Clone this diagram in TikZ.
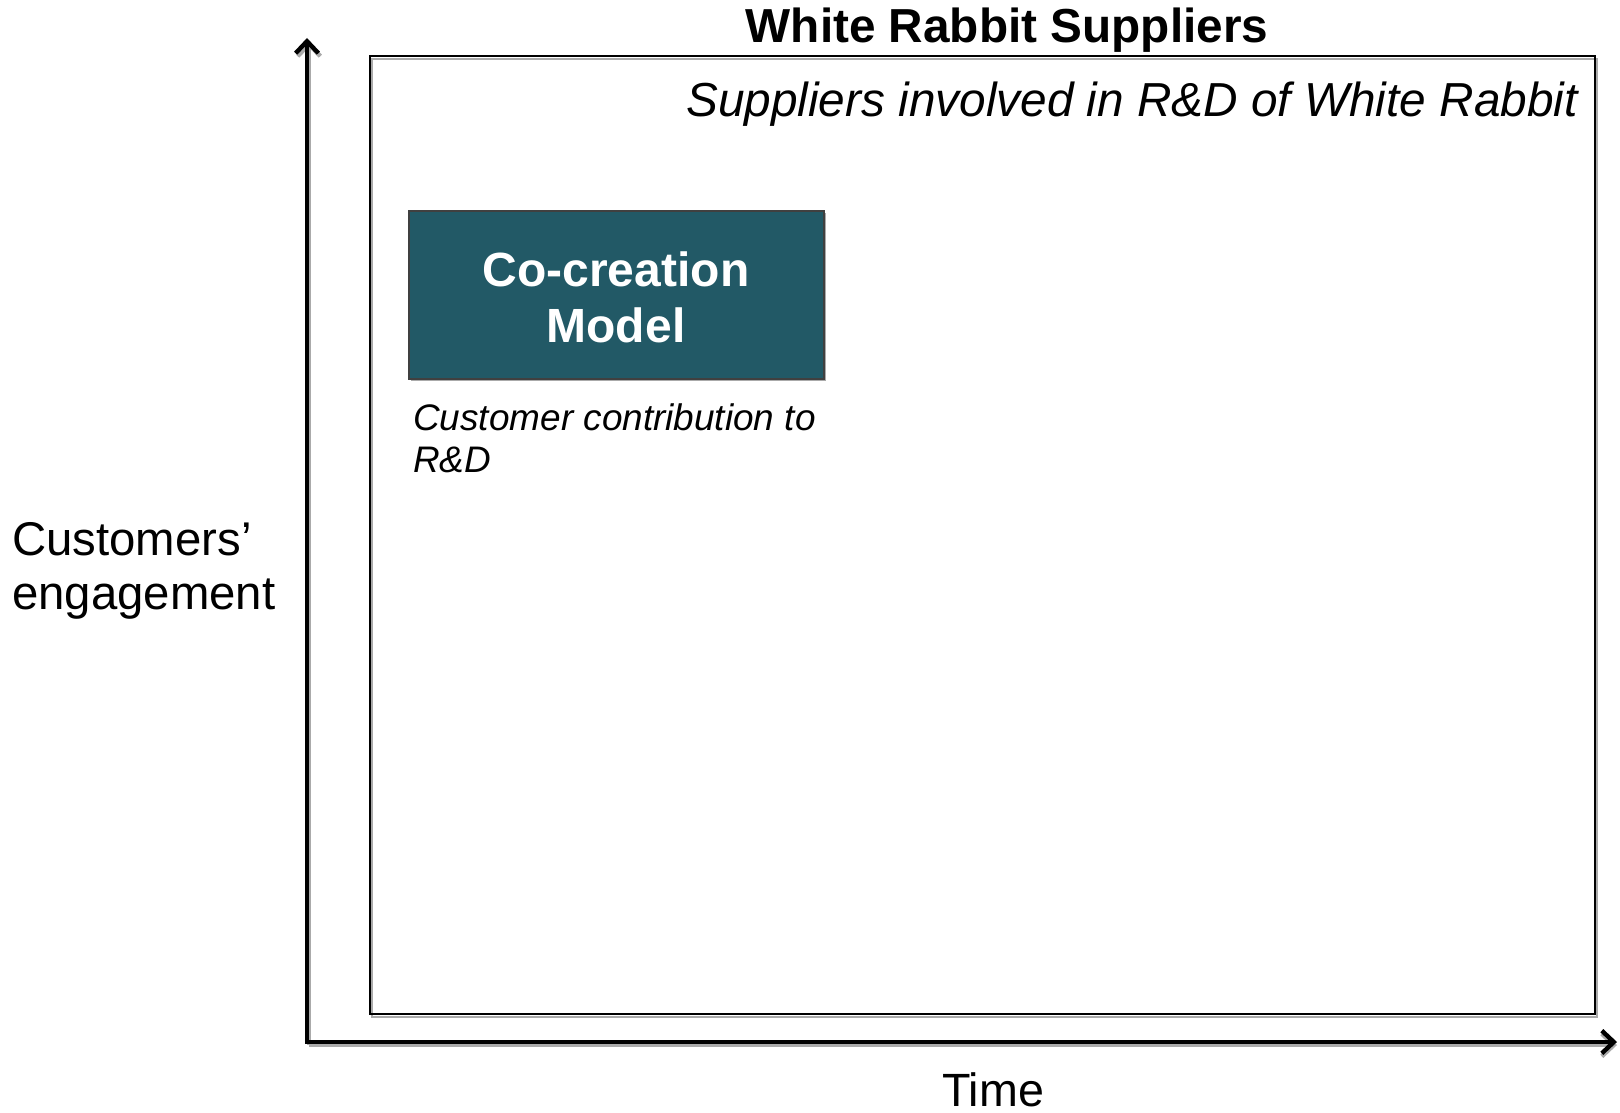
\documentclass[tikz,border=0pt]{standalone}
\usepackage{fontspec}
\setmainfont{Liberation Sans}
\usetikzlibrary{arrows.meta}
\definecolor{teal}{RGB}{34,89,102}
\definecolor{shadowgray}{RGB}{170,170,170}
\begin{document}
\begin{tikzpicture}[x=0.75pt,y=-0.75pt,
  axis/.style={line width=3.3pt,-{Straight Barb[length=9pt,width=17pt,line width=3.3pt]}},
  axisshadow/.style={line width=3.3pt,shadowgray,-{Straight Barb[length=9pt,width=17pt,line width=3.3pt]}},
  bigtxt/.style={inner sep=0pt,font=\fontsize{35.8pt}{42pt}\selectfont},
  boxtxt/.style={inner sep=0pt,font=\fontsize{36pt}{42pt}\selectfont\bfseries,text=white,align=center},
  captxt/.style={inner sep=0pt,font=\fontsize{27.7pt}{31.5pt}\selectfont\itshape,align=left},
]
\useasboundingbox[fill=white] (0,0) rectangle (1620,1113);
% frame
\draw[shadowgray,line width=1.8pt] (372,59) rectangle (1597,1017);
\draw[black,line width=1.8pt] (370,56) rectangle (1595,1014);
% axes
\coordinate (o) at (307,1042);
\coordinate (ytop) at (307,38);
\coordinate (xend) at (1617,1042);
\coordinate (os) at (309,1045);
\coordinate (ytops) at (309,41);
\coordinate (xends) at (1617,1045);
\draw[axisshadow] (os) -- (ytops);
\draw[axisshadow] (os) -- (xends);
\draw[axis] ([yshift=1.6pt]o) -- (ytop);
\draw[axis] ([xshift=-1.6pt]o) -- (xend);
% box
\fill[shadowgray] (411,213) rectangle (826,381);
\node[draw=black!75,line width=1.3pt,fill=teal,minimum width=415*0.75pt,minimum height=168*0.75pt,anchor=north west,inner sep=0pt] (cc) at (408,210) {};
\node[boxtxt,anchor=base] (cctxt) at (616,342) {Co-creation\\Model};
\node[captxt,anchor=base west] (cap) at (413,472) {Customer contribution to\\R\&D};
% texts
\node[bigtxt,anchor=base,font=\fontsize{35.8pt}{42pt}\selectfont\bfseries] (title) at (1007,43) {White Rabbit Suppliers};
\node[bigtxt,anchor=base east,font=\fontsize{35.8pt}{42pt}\selectfont\itshape] (sub) at (1578,117) {Suppliers involved in R\&D of White Rabbit};
\node[bigtxt,anchor=base west,align=left,font=\fontsize{35.5pt}{40pt}\selectfont] (yl) at (12,609) {Customers’\\engagement};
\node[bigtxt,anchor=base,font=\fontsize{35pt}{42pt}\selectfont] (xl) at (993,1106) {Time};
\end{tikzpicture}
\end{document}
